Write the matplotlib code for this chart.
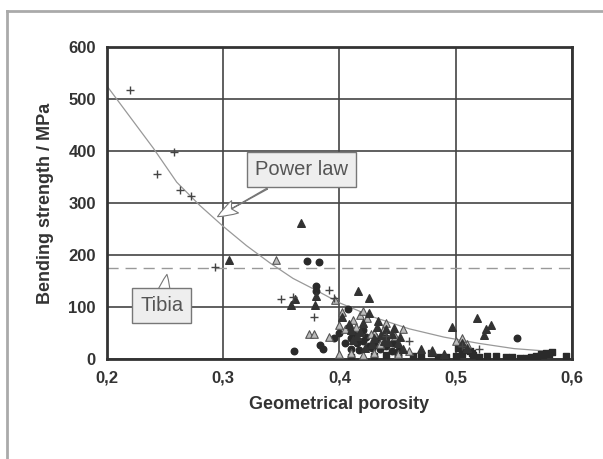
import matplotlib.pyplot as plt
from matplotlib.lines import Line2D

# power law fit curve
curve_x = [0.20, 0.22, 0.24, 0.26, 0.28, 0.30, 0.32, 0.34, 0.36, 0.38, 0.40, 0.43, 0.46, 0.49, 0.52, 0.55, 0.585]
curve_y = [525, 465, 405, 340, 295, 255, 218, 185, 155, 132, 108, 80, 58, 42, 30, 20, 14]

plus_x = [0.22, 0.258, 0.243, 0.263, 0.272, 0.293, 0.35, 0.36, 0.378, 0.391, 0.395, 0.44, 0.46, 0.505, 0.52]
plus_y = [517, 398, 355, 325, 313, 176, 115, 120, 81, 133, 118, 45, 35, 25, 20]

tri_x = [0.305, 0.3665, 0.358, 0.362, 0.379, 0.38, 0.416, 0.425, 0.402, 0.42, 0.425, 0.497, 0.518, 0.53,
         0.526, 0.524, 0.41, 0.43, 0.44, 0.445, 0.45, 0.47, 0.48, 0.505, 0.51, 0.49, 0.415, 0.432, 0.438, 0.455,
         0.408, 0.418, 0.428, 0.436, 0.442, 0.422, 0.412, 0.447, 0.452, 0.433]
tri_y = [190, 262, 104, 116, 103, 122, 131, 118, 80, 70, 88, 62, 79, 66,
         57, 47, 55, 40, 58, 48, 30, 20, 15, 30, 22, 10, 45, 62, 35, 20,
         68, 52, 28, 46, 32, 22, 36, 60, 42, 74]

open_x = [0.345, 0.396, 0.374, 0.378, 0.391, 0.40, 0.405, 0.418, 0.42, 0.412, 0.43, 0.435, 0.44,
          0.448, 0.455, 0.46, 0.48, 0.50, 0.505, 0.51, 0.40, 0.41, 0.42, 0.43, 0.45,
          0.414, 0.424, 0.437, 0.402, 0.427]
open_y = [190, 113, 48, 48, 43, 65, 58, 85, 92, 75, 50, 28, 70,
          45, 58, 15, 18, 35, 40, 28, 10, 12, 8, 12, 10,
          62, 78, 55, 90, 48]

dot_x = [0.372, 0.382, 0.38, 0.38, 0.407, 0.361, 0.383, 0.386, 0.553, 0.41, 0.415, 0.42, 0.425,
         0.43, 0.435, 0.44, 0.445, 0.45, 0.405, 0.41, 0.395, 0.40, 0.42, 0.43, 0.44,
         0.417, 0.423, 0.432, 0.438, 0.446, 0.412, 0.428, 0.451, 0.408]
dot_y = [189, 186, 130, 140, 97, 16, 26, 20, 41, 40, 30, 35, 25,
         30, 20, 25, 15, 8, 30, 20, 40, 50, 55, 45, 40,
         18, 42, 38, 52, 30, 48, 22, 18, 62]

sq_x = [0.45, 0.463, 0.479, 0.492, 0.50, 0.505, 0.512, 0.514, 0.527, 0.543, 0.555, 0.565, 0.569, 0.573,
        0.578, 0.583, 0.58, 0.575, 0.57, 0.56, 0.595, 0.41, 0.43, 0.44, 0.47, 0.485, 0.52, 0.535, 0.548,
        0.508, 0.515, 0.502]
sq_y = [4, 5, 12, 3, 6, 10, 15, 12, 5, 3, 2, 4, 6, 9,
        12, 14, 10, 7, 3, 2, 5, 3, 5, 8, 5, 4, 4, 6, 3,
        18, 8, 22]

tibia = 175

font = 'Liberation Sans'
fig = plt.figure(figsize=(6.03, 4.59), dpi=100)
ax = fig.add_axes([0.1774, 0.2179, 0.7712, 0.6797])

ax.plot(curve_x, curve_y, color='#999999', lw=0.9, zorder=2)
ax.axhline(tibia, color='#999999', lw=1.0, dashes=(8, 5), zorder=2)

ax.scatter(sq_x, sq_y, marker='s', s=22, color='#2a2a2a', zorder=3)
ax.scatter(dot_x, dot_y, marker='o', s=22, color='#2a2a2a', zorder=3)
ax.scatter(open_x, open_y, marker='^', s=30, facecolor='#bbbbbb', edgecolor='#555555', lw=0.8, zorder=3)
ax.scatter(tri_x, tri_y, marker='^', s=30, color='#333333', zorder=3)
ax.scatter(plus_x, plus_y, marker='+', s=40, color='#444444', lw=1.0, zorder=3)

ax.set_xlim(0.2, 0.6)
ax.set_ylim(0, 600)
ax.set_xticks([0.2, 0.3, 0.4, 0.5, 0.6])
ax.set_xticklabels(['0,2', '0,3', '0,4', '0,5', '0,6'])
ax.set_yticks(range(0, 601, 100))
ax.grid(True, color='#444444', lw=1.2)
ax.set_axisbelow(True)
for s in ax.spines.values():
    s.set_color('#333333')
    s.set_linewidth(2)
ax.tick_params(length=0, pad=8, labelsize=12, colors='#333333')
for lab in ax.get_xticklabels() + ax.get_yticklabels():
    lab.set_fontfamily(font)
    lab.set_fontweight('bold')
ax.set_xlabel('Geometrical porosity', fontsize=13, fontweight='bold', family=font, color='#333333', labelpad=8)
ax.set_ylabel('Bending strength / MPa', fontsize=13, fontweight='bold', family=font, color='#333333', labelpad=10)

box = dict(boxstyle='square,pad=0.4', fc='#eeeeee', ec='#777777', lw=1.0)
arrow = dict(arrowstyle='fancy,head_length=1.0,head_width=0.7,tail_width=0.06', fc='white', ec='#777777', lw=0.8)
ax.annotate('Power law', xy=(0.293, 271), xytext=(0.3675, 365), fontsize=14.5, family=font, color='#555555',
            ha='center', va='center', bbox=box, arrowprops=arrow, zorder=4)
ax.annotate('Tibia', xy=(0.252, 168), xytext=(0.247, 103), fontsize=14.5, family=font, color='#555555',
            ha='center', va='center', bbox=box, arrowprops=arrow, zorder=4)

# scanned page frame
fig.add_artist(Line2D([0.012, 0.012], [0.0, 0.975], color='#aaaaaa', lw=2))
fig.add_artist(Line2D([0.012, 1.0], [0.975, 0.975], color='#aaaaaa', lw=2))

fig.savefig('out.png', dpi=100)
